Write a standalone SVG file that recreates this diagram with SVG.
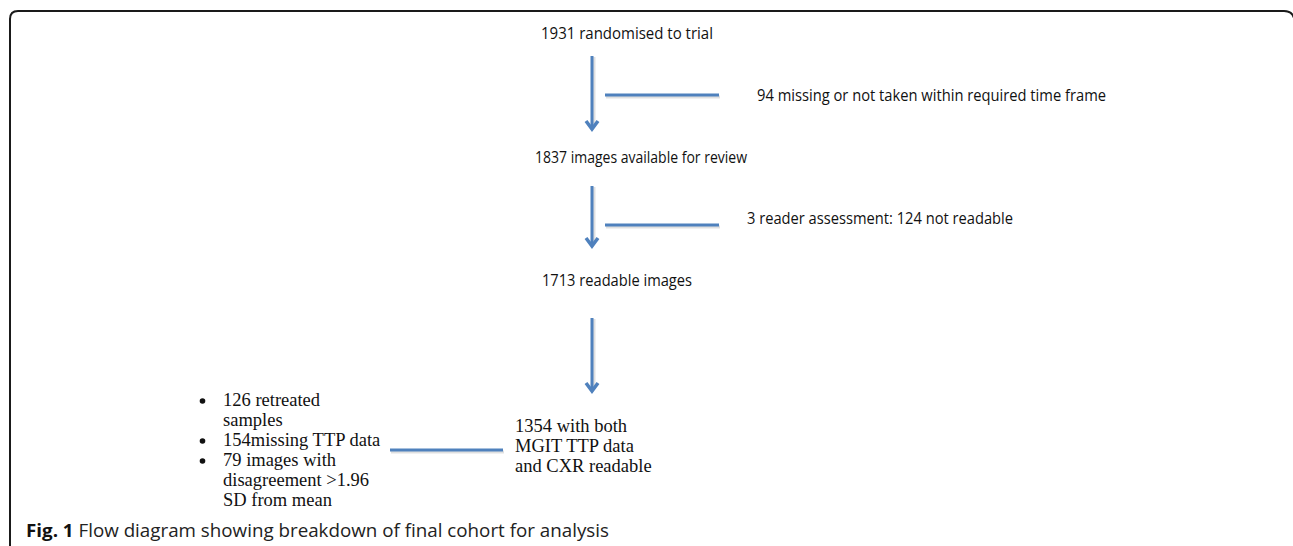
<svg xmlns="http://www.w3.org/2000/svg" width="1293" height="546" viewBox="0 0 1293 546">
<style>
.sans{font-family:"Open Sans","Noto Sans","DejaVu Sans",sans-serif;font-size:16px;fill:#111}
.serif{font-family:"Liberation Serif","DejaVu Serif",serif;font-size:18.5px;fill:#111}
.cap{font-family:"Open Sans","Noto Sans",sans-serif;font-size:18px;fill:#222}
.ln{stroke:#4f81bd;stroke-width:3;fill:none}
.sh{stroke:#000;stroke-opacity:0.12;stroke-width:3;fill:none}
.ah{stroke:#4f81bd;stroke-width:3.5;fill:none;stroke-linejoin:miter}
</style>
<rect width="1293" height="546" fill="#fff"/>
<path d="M10,546 V19 Q10,11 18,11 H1284 Q1292,11 1294,18" fill="none" stroke="#1a1a1a" stroke-width="2"/>

<g id="connectors">
  <line class="sh" x1="594" y1="57" x2="594" y2="126"/>
  <line class="ln" x1="592" y1="56" x2="592" y2="128"/>
  <polyline class="ah" points="586,121 592,129 598,121"/>
  <line class="sh" x1="606" y1="97" x2="720" y2="97"/>
  <line class="ln" x1="605" y1="95" x2="719" y2="95"/>

  <line class="sh" x1="594" y1="187" x2="594" y2="243"/>
  <line class="ln" x1="592" y1="186" x2="592" y2="245"/>
  <polyline class="ah" points="586,238 592,246 598,238"/>
  <line class="sh" x1="606" y1="227" x2="720" y2="227"/>
  <line class="ln" x1="605" y1="225" x2="719" y2="225"/>

  <line class="sh" x1="594" y1="319" x2="594" y2="388"/>
  <line class="ln" x1="592" y1="318" x2="592" y2="390"/>
  <polyline class="ah" points="586,383 592,391 598,383"/>
  <line class="sh" x1="391" y1="452" x2="504" y2="452"/>
  <line class="ln" x1="390" y1="450" x2="503" y2="450"/>
</g>

<g id="n1931"><text class="sans" x="541" y="39" textLength="172" lengthAdjust="spacingAndGlyphs">1931 randomised to trial</text></g>
<g id="n94"><text class="sans" x="757" y="101" textLength="349" lengthAdjust="spacingAndGlyphs">94 missing or not taken within required time frame</text></g>
<g id="n1837"><text class="sans" x="535" y="163" textLength="212" lengthAdjust="spacingAndGlyphs">1837 images available for review</text></g>
<g id="n124"><text class="sans" x="747" y="224" textLength="266" lengthAdjust="spacingAndGlyphs">3 reader assessment: 124 not readable</text></g>
<g id="n1713"><text class="sans" x="542" y="286" textLength="150" lengthAdjust="spacingAndGlyphs">1713 readable images</text></g>

<g id="n1354">
  <text class="serif" x="515" y="432">1354 with both</text>
  <text class="serif" x="515" y="452">MGIT TTP data</text>
  <text class="serif" x="515" y="472">and CXR readable</text>
</g>

<g id="excluded">
  <circle cx="202.5" cy="401" r="2.8" fill="#111"/>
  <circle cx="202.5" cy="441" r="2.8" fill="#111"/>
  <circle cx="202.5" cy="461" r="2.8" fill="#111"/>
  <text class="serif" x="223" y="406">126 retreated</text>
  <text class="serif" x="223" y="426">samples</text>
  <text class="serif" x="223" y="446">154missing TTP data</text>
  <text class="serif" x="223" y="466">79 images with</text>
  <text class="serif" x="223" y="486">disagreement &gt;1.96</text>
  <text class="serif" x="223" y="506">SD from mean</text>
</g>

<g id="caption"><text class="cap" x="26" y="537" textLength="583" lengthAdjust="spacingAndGlyphs"><tspan font-weight="bold" fill="#111">Fig. 1</tspan> Flow diagram showing breakdown of final cohort for analysis</text></g>
</svg>
